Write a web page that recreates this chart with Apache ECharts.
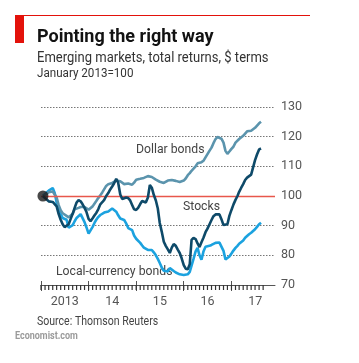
<!DOCTYPE html>
<html>
<head>
<meta charset="utf-8">
<script src="https://cdn.jsdelivr.net/npm/echarts@6/dist/echarts.min.js"></script>
<style>
html,body{margin:0;padding:0;background:#ffffff;}
#chart{width:359px;height:363px;}
</style>
</head>
<body>
<div id="chart"></div>
<script>
// Half-monthly observation dates
var dates = [
 '2013-01-16','2013-02-01','2013-02-16','2013-03-01','2013-03-16','2013-04-01','2013-04-16','2013-05-01','2013-05-16','2013-06-01','2013-06-16','2013-07-01','2013-07-16','2013-08-01','2013-08-16','2013-09-01','2013-09-16','2013-10-01','2013-10-16','2013-11-01','2013-11-16','2013-12-01','2013-12-16',
 '2014-01-01','2014-01-16','2014-02-01','2014-02-16','2014-03-01','2014-03-16','2014-04-01','2014-04-16','2014-05-01','2014-05-16','2014-06-01','2014-06-16','2014-07-01','2014-07-16','2014-08-01','2014-08-16','2014-09-01','2014-09-16','2014-10-01','2014-10-16','2014-11-01','2014-11-16','2014-12-01','2014-12-16',
 '2015-01-01','2015-01-16','2015-02-01','2015-02-16','2015-03-01','2015-03-16','2015-04-01','2015-04-16','2015-05-01','2015-05-16','2015-06-01','2015-06-16','2015-07-01','2015-07-16','2015-08-01','2015-08-16','2015-09-01','2015-09-16','2015-10-01','2015-10-16','2015-11-01','2015-11-16','2015-12-01','2015-12-16',
 '2016-01-01','2016-01-16','2016-02-01','2016-02-16','2016-03-01','2016-03-16','2016-04-01','2016-04-16','2016-05-01','2016-05-16','2016-06-01','2016-06-16','2016-07-01','2016-07-16','2016-08-01','2016-08-16','2016-09-01','2016-09-16','2016-10-01','2016-10-16','2016-11-01','2016-11-16','2016-12-01','2016-12-16',
 '2017-01-01','2017-01-16','2017-02-01','2017-02-16','2017-03-01','2017-03-16','2017-04-01','2017-04-16','2017-05-01','2017-05-16','2017-06-01','2017-06-16','2017-07-01','2017-07-16','2017-08-01','2017-08-16'
];

var dollarBonds = [
 100,100.3,100.8,101.3,101.5,101.5,101,99.5,97,95.2,94.2,94,93.3,92.8,93,94,95.5,95.6,96,96.3,96.5,96.3,95.8,
 95.4,95.6,96.5,97.5,98.3,99.3,100.2,101.2,102.3,103.4,104,104.4,104.4,104.7,105.2,105.3,105,104.5,104,104,104.2,104.4,103.8,104.5,
 105.5,105.7,105.8,106,106.1,106.4,106.7,107,106.4,105.8,105.5,105.2,104.8,104.5,104.4,104.7,105.2,105.5,105.4,105.3,105.1,104.9,104.7,104.9,
 105.2,105.9,107,107.7,108.5,109.2,110,111,111.4,111.4,111.9,113,114.1,115.2,116.3,117.8,119.2,119.9,119.9,119.3,118,115.2,114.2,115,
 115.9,116.6,118,118.6,119.2,119.8,120.3,120.9,121.8,121.9,122,122.3,123,123.5,124.5,125
];

var stocks = [
 100,99.3,98.7,98.2,98,98,97.8,96.5,94,92,90.5,89.5,89.6,90.5,92.2,94,96,97.8,98.6,98.2,97.2,96,94.6,
 92.3,91.5,92.5,93.5,94.3,95.5,97.2,97.9,98.7,100,101,102.2,103.2,104.3,105.8,104.5,100.5,99,99.3,99.5,99.3,98.5,97,95.5,
 95.3,96,97.3,98.3,98.3,97.8,99.5,103.7,102.8,100.4,98.5,95.8,90.9,88,84.6,83.2,82,80.8,82.6,83.8,83.2,81.9,80.8,79,
 76.7,75.5,75.3,77,85.2,85.9,85.5,84,82.8,84.4,86,87.8,89,90.4,91.9,93.2,93.8,94.2,93.8,92.2,90.2,90.2,90.5,93.3,
 95.3,97.1,98.7,100,101.4,102.7,104,105.4,106.2,106.8,107.2,107.7,112.1,114,115.7,116
];

var localCurrencyBonds = [
 100,100.7,101.3,101.8,102.3,102.7,101,97.8,95.5,94,92.6,92.5,92,89.3,88.7,90.2,91.5,92.6,93.2,93.9,93.3,91.2,89.4,
 87.3,87.8,89.6,91,92,92.9,93.6,94.2,94.4,94.5,94.8,95.3,95.8,95.7,94.7,93.5,92.4,92,91.9,90.8,89.2,89,88.5,86.7,
 85.6,85,84.2,83.3,82.6,82,81.8,81.8,81.8,81,80,78.8,77.4,75.9,74.8,74.3,74.6,75.7,75.2,74.7,74.2,73.8,73.6,73.5,
 73.4,73.4,73.6,74.4,75,78.8,81.3,82.5,80,78.5,81.4,82.9,83,83.2,83.5,83.8,84.2,84.4,84.3,83.7,81.5,78.6,79,79.6,
 80.6,81.6,82.5,83.2,83.9,84.3,85,85.9,86.5,87.1,87.6,87.9,88.8,89.6,90.5,91
];

var yearLabels = ['2013','14','15','16','17'];
var yearStarts = [2013, 2014, 2015, 2016, 2017];
var yTicks = [70, 80, 90, 100, 110, 120, 130];
var seriesNames = ['Dollar bonds', 'Stocks', 'Local-currency bonds'];

function ts(s) { var p = s.split('-'); return new Date(+p[0], +p[1] - 1, +p[2]).getTime(); }
function pair(vals) { return vals.map(function (v, i) { return [ts(dates[i]), v]; }); }

// Monthly tick positions, Jan 2013 to Sep 2017
var monthTicks = [];
for (var yi = 0; yi < yearStarts.length; yi++) {
  for (var mi = 0; mi < 12; mi++) {
    if (yearStarts[yi] === 2017 && mi > 8) break;
    monthTicks.push([new Date(yearStarts[yi], mi, 1).getTime(), yTicks[0]]);
  }
}
var yearTicks = yearStarts.map(function (y) { return new Date(y, 0, 1).getTime(); });
var yearMid = yearStarts.map(function (y) { return new Date(y, 6, 2).getTime(); });

var FONT = "Roboto, 'Liberation Sans', sans-serif";
var axMin = new Date(2013, 0, 1).getTime();
var axMax = new Date(2017, 11, 1).getTime();

function plainAxis(extra) {
  var base = {type: 'value', min: axMin, max: axMax, scale: true, position: 'bottom',
    axisLine: {show: false}, axisLabel: {show: false}, splitLine: {show: false}};
  for (var k in extra) base[k] = extra[k];
  return base;
}

var chart = echarts.init(document.getElementById('chart'), null, {renderer: 'canvas'});
chart.setOption({
  backgroundColor: '#ffffff',
  animation: false,
  grid: {left: 41, right: 84, top: 107, bottom: 78, containLabel: false},
  xAxis: [
    plainAxis({
      axisLine: {show: true, lineStyle: {color: '#555', width: 1}},
      axisTick: {show: false},
      axisLabel: {show: true, customValues: yearMid, margin: 10, color: '#555', fontFamily: FONT, fontSize: 12.5,
        formatter: function (v) { return yearLabels[new Date(v).getFullYear() - 2013]; }}
    }),
    plainAxis({
      offset: -4,
      axisTick: {show: true, customValues: yearTicks, length: 10, lineStyle: {color: '#555', width: 1}},
      axisLabel: {show: true, customValues: yearTicks, formatter: function () { return ''; }}
    })
  ],
  yAxis: {
    type: 'value', position: 'right', min: yTicks[0], max: yTicks[yTicks.length - 1], interval: 10,
    axisLine: {show: false}, axisTick: {show: false},
    axisLabel: {color: '#555', fontFamily: FONT, fontSize: 12.5, margin: 6, align: 'left'},
    splitLine: {show: true, lineStyle: {color: '#777', type: [1.5, 1.5], width: 1}}
  },
  series: [{
    name: seriesNames[2], type: 'line', data: pair(localCurrencyBonds), showSymbol: false,
    lineStyle: {color: '#1ba2df', width: 2.6}, z: 3,
    markLine: {silent: true, symbol: 'none', label: {show: false},
      lineStyle: {color: '#e8574b', width: 1.3, type: 'solid'}, data: [{yAxis: 100}]}
  }, {
    name: seriesNames[0], type: 'line', data: pair(dollarBonds), showSymbol: false,
    lineStyle: {color: '#5b94ad', width: 2.6}, z: 4
  }, {
    name: seriesNames[1], type: 'line', data: pair(stocks), showSymbol: false,
    lineStyle: {color: '#0e4a69', width: 2.6}, z: 5
  }, {
    type: 'scatter', data: [[ts(dates[0]), stocks[0]]], symbolSize: 11,
    itemStyle: {color: '#1a1a1a'}, z: 6
  }, {
    // monthly tick marks hanging under the axis line
    type: 'scatter', data: monthTicks, silent: true, clip: false, z: 7,
    symbol: 'rect', symbolSize: [1.2, 5], symbolOffset: [0, 2.5],
    itemStyle: {color: '#333', opacity: 1}
  }],
  graphic: [
    {type: 'rect', shape: {x: 15, y: 15, width: 9, height: 28}, style: {fill: '#e3120b'}},
    {type: 'rect', shape: {x: 15, y: 15, width: 295, height: 1}, style: {fill: '#e3120b'}},
    {type: 'text', x: 37, y: 37, style: {text: 'Pointing the right way', font: 'bold 18px ' + FONT, fill: '#121212', verticalAlign: 'middle'}},
    {type: 'text', x: 37, y: 58.5, scaleX: 0.93, style: {text: 'Emerging markets, total returns, $ terms', font: '14px ' + FONT, fill: '#333', verticalAlign: 'middle'}},
    {type: 'text', x: 37, y: 74, scaleX: 0.93, style: {text: 'January 2013=100', font: '12.5px ' + FONT, fill: '#333', verticalAlign: 'middle'}},
    {type: 'text', x: 136, y: 150, scaleX: 0.94, style: {text: seriesNames[0], font: '13px ' + FONT, fill: '#444', verticalAlign: 'middle'}},
    {type: 'text', x: 183, y: 207, scaleX: 0.94, style: {text: seriesNames[1], font: '13px ' + FONT, fill: '#444', verticalAlign: 'middle'}},
    {type: 'text', x: 56, y: 272, scaleX: 0.94, style: {text: seriesNames[2], font: '13px ' + FONT, fill: '#444', verticalAlign: 'middle'}},
    {type: 'text', x: 37, y: 322, scaleX: 0.88, style: {text: 'Source: Thomson Reuters', font: '12px ' + FONT, fill: '#444', verticalAlign: 'middle'}},
    {type: 'text', x: 15, y: 336, scaleX: 0.9, style: {text: 'Economist.com', font: 'bold 10px ' + FONT, fill: '#9a9a9a', verticalAlign: 'middle'}}
  ]
});
</script>
</body>
</html>
